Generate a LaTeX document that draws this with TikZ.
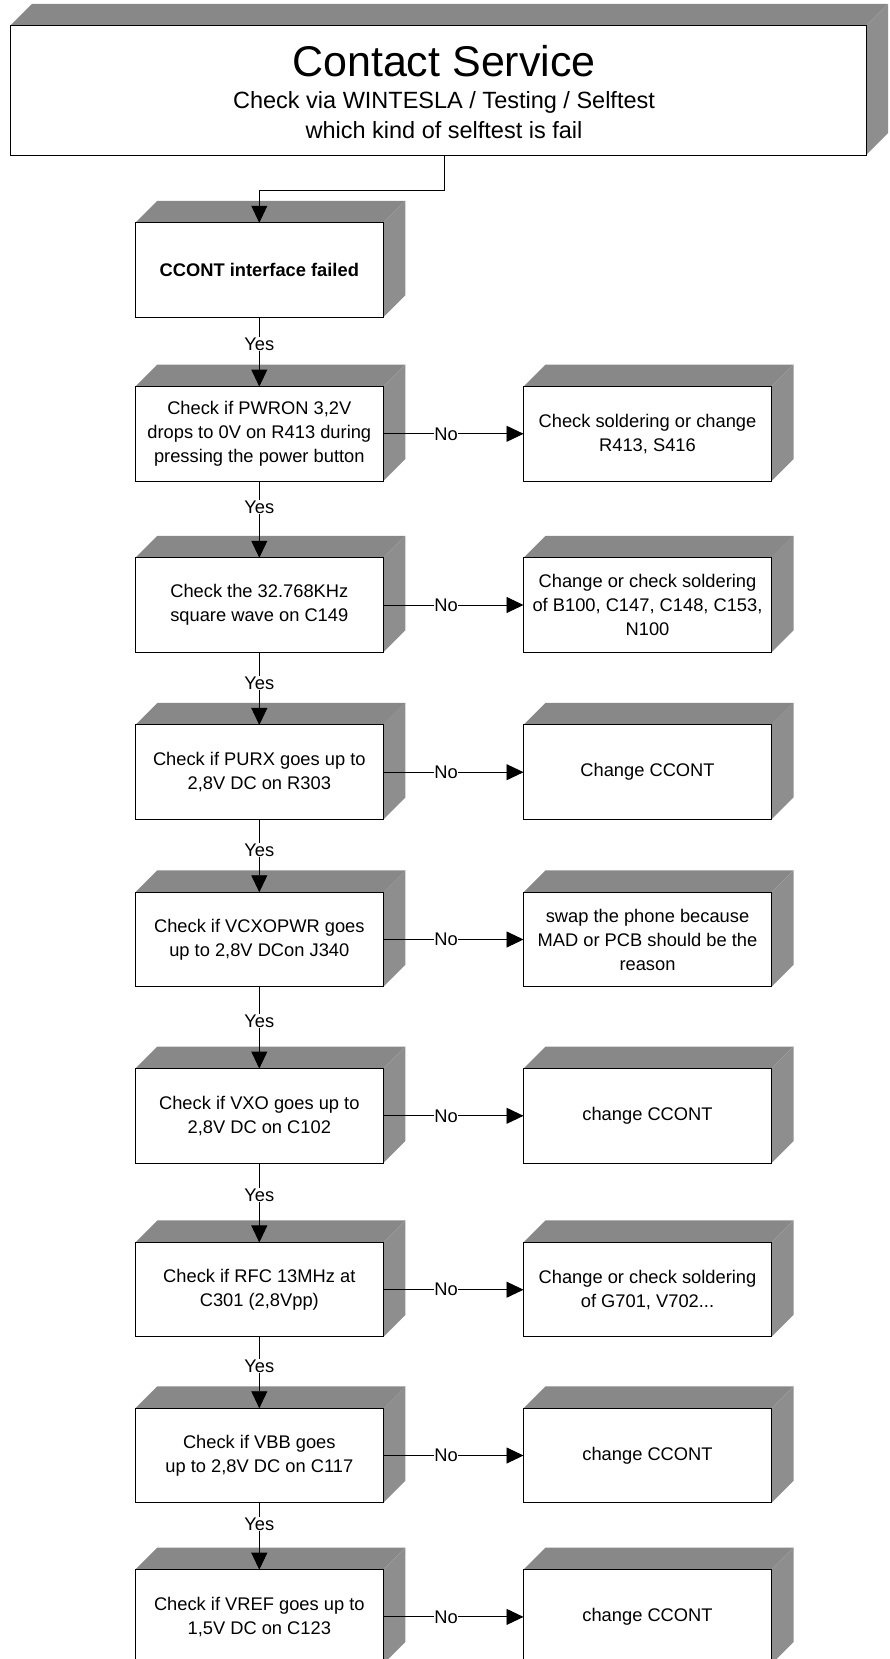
\documentclass[tikz,border=0pt]{standalone}
\usepackage{fontspec}
\setmainfont{Liberation Sans}
\usetikzlibrary{arrows.meta,calc,backgrounds}
\definecolor{topface}{RGB}{136,136,136}
\definecolor{sideface}{RGB}{142,142,142}
\newcommand{\bodyfont}{\fontsize{18.3}{24}\selectfont}
\newcommand{\boxfaces}[1]{%
  \fill[topface] (#1.north west) -- (#1.north east) -- ($(#1.north east)+(22,-22)$) -- ($(#1.north west)+(22,-22)$) -- cycle;
  \fill[sideface] (#1.north east) -- ($(#1.north east)+(22,-22)$) -- ($(#1.south east)+(22,-22)$) -- (#1.south east) -- cycle;
}
\begin{document}
\begin{tikzpicture}[x=1pt,y=-1pt,
  box/.style={draw, line width=1pt, fill=white, minimum width=248pt, minimum height=94.5pt, inner sep=0pt, outer sep=0pt, align=center, font=\bodyfont},
  lbl/.style={fill=white, inner sep=1pt, font=\bodyfont},
  arr/.style={line width=0.9pt, -{Triangle[length=17pt,width=16pt]}},
  conn/.style={line width=0.9pt},
]
\useasboundingbox (0,0) rectangle (890,1659);

% top box
\node[box, minimum width=856pt, minimum height=129pt] (top) at (438,90.5) {};
\node[font=\fontsize{43}{50}\selectfont, inner sep=0pt] (title) at (444,61) {Contact Service};
\node[font=\fontsize{23.5}{30.5}\selectfont, align=center, inner sep=0pt] (sub) at (444,115) {Check via WINTESLA / Testing / Selftest\\which kind of selftest is fail};

% left column
\node[box] (b1) at (259.3,270) {\bfseries CCONT interface failed};
\node[box] (b2) at (259.3,433.8) {Check if PWRON 3,2V\\drops to 0V on R413 during\\pressing the power button};
\node[box] (b3) at (259.3,605) {Check the 32.768KHz\\square wave on C149};
\node[box] (b4) at (259.3,772.2) {Check if PURX goes up to\\2,8V DC on R303};
\node[box] (b5) at (259.3,939.5) {Check if VCXOPWR goes\\up to 2,8V DCon J340};
\node[box] (b6) at (259.3,1115.8) {Check if VXO goes up to\\2,8V DC on C102};
\node[box] (b7) at (259.3,1289.7) {Check if RFC 13MHz at\\C301 (2,8Vpp)};
\node[box] (b8) at (259.3,1455.5) {Check if VBB goes\\up to 2,8V DC on C117};
\node[box] (b9) at (259.3,1616.9) {Check if VREF goes up to\\1,5V DC on C123};

% right column
\node[box] (r2) at (647.5,433.8) {Check soldering or change\\R413, S416};
\node[box] (r3) at (647.5,605) {Change or check soldering\\of B100, C147, C148, C153,\\N100};
\node[box] (r4) at (647.5,772.2) {Change CCONT};
\node[box] (r5) at (647.5,939.5) {swap the phone because\\MAD or PCB should be the\\reason};
\node[box] (r6) at (647.5,1115.8) {change CCONT};
\node[box] (r7) at (647.5,1289.7) {Change or check soldering\\of G701, V702...};
\node[box] (r8) at (647.5,1455.5) {change CCONT};
\node[box] (r9) at (647.5,1616.9) {change CCONT};

% 3D faces
\begin{scope}[on background layer]
  \boxfaces{top}
  \foreach \n in {b1,b2,b3,b4,b5,b6,b7,b8,b9,r2,r3,r4,r5,r6,r7,r8,r9} {\boxfaces{\n}}
\end{scope}

% connectors
\coordinate (elbow) at (444,190);
\draw[arr] (top.south -| title) -- (elbow) -| (b1.north);
\draw[arr] (b1.south) -- (b2.north);
\draw[arr] (b2.south) -- (b3.north);
\draw[arr] (b3.south) -- (b4.north);
\draw[arr] (b4.south) -- (b5.north);
\draw[arr] (b5.south) -- (b6.north);
\draw[arr] (b6.south) -- (b7.north);
\draw[arr] (b7.south) -- (b8.north);
\draw[arr] (b8.south) -- (b9.north);
\foreach \i in {2,...,9} {\draw[arr] (b\i.east) -- (r\i.west);}

% Yes labels
\node[lbl] (y1) at (259.3,344) {Yes};
\node[lbl] (y2) at (259.3,507) {Yes};
\node[lbl] (y3) at (259.3,683) {Yes};
\node[lbl] (y4) at (259.3,850) {Yes};
\node[lbl] (y5) at (259.3,1021) {Yes};
\node[lbl] (y6) at (259.3,1195) {Yes};
\node[lbl] (y7) at (259.3,1366) {Yes};
\node[lbl] (y8) at (259.3,1524) {Yes};

% No labels
\foreach \i/\yy in {2/433.8,3/605,4/772.2,5/939.5,6/1115.8,7/1289.7,8/1455.5,9/1616.9}
  {\node[lbl, inner sep=0.5pt] (n\i) at (446,\yy) {No};}
\end{tikzpicture}
\end{document}
